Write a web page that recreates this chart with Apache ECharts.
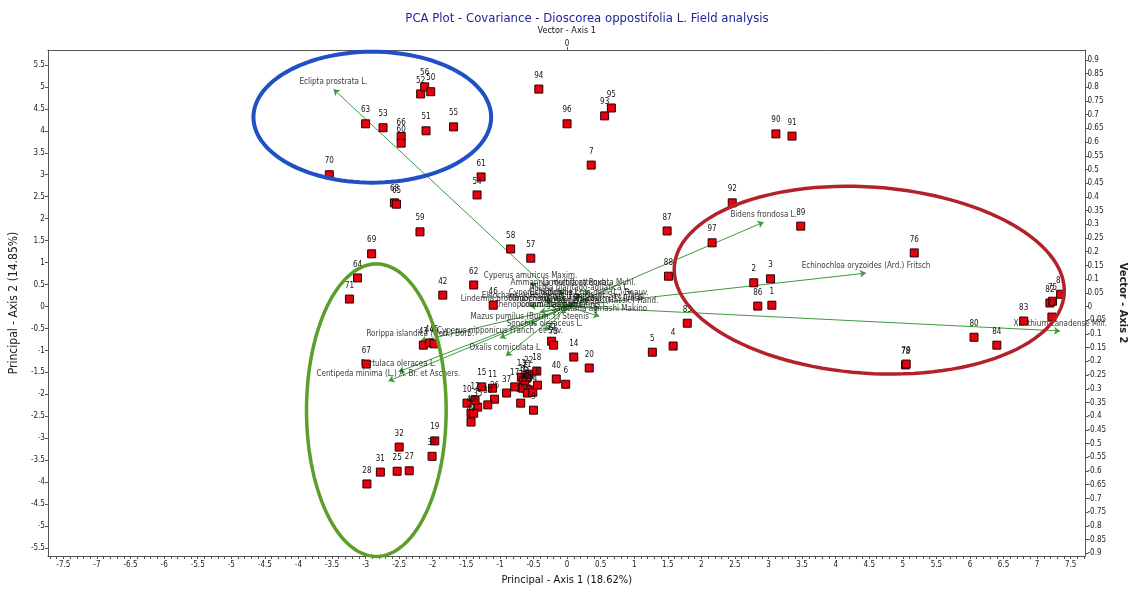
<!DOCTYPE html>
<html><head><meta charset="utf-8">
<script src="https://cdn.jsdelivr.net/npm/echarts@6/dist/echarts.min.js"></script>
<style>html,body{margin:0;padding:0;background:#fff}#c{width:1136px;height:592px}</style>
</head><body><div id="c"></div>
<script>
// ---- Data ----
const pointLabels = ['70','63','53','66','60','51','55','52','56','50','61','54','68','65','59','69','64','71','42','62','46','58','57','94','96','93','95','7','90','91','92','87','97','89','88','2','3','86','1','85','5','4','78','79','76','81','82','75','77','83','80','84','43','44','45','67','19','38','32','31','25','27','28','15','11','26','36','35','10','12','47','48','49','37','17','39','13','16','21','22','23','24','29','30','33','34','8','9','18','40','6','14','20','72','73'];
const pointX = [-3.54,-3.00,-2.74,-2.47,-2.47,-2.10,-1.69,-2.18,-2.12,-2.03,-1.28,-1.34,-2.57,-2.54,-2.19,-2.91,-3.12,-3.24,-1.85,-1.39,-1.10,-0.84,-0.54,-0.42,0.00,0.56,0.66,0.36,3.11,3.35,2.46,1.49,2.16,3.48,1.51,2.78,3.03,2.84,3.05,1.79,1.27,1.58,5.04,5.05,5.17,7.35,7.19,7.23,7.22,6.80,6.06,6.40,-2.14,-2.05,-1.98,-2.99,-1.97,-2.01,-2.50,-2.78,-2.53,-2.35,-2.98,-1.27,-1.11,-1.08,-1.18,-1.33,-1.49,-1.37,-1.43,-1.39,-1.43,-0.90,-0.78,-0.69,-0.68,-0.65,-0.60,-0.57,-0.63,-0.60,-0.56,-0.66,-0.59,-0.51,-0.44,-0.50,-0.45,-0.16,-0.02,0.10,0.33,-0.23,-0.20];
const pointY = [3.00,4.16,4.07,3.87,3.72,4.00,4.09,4.84,5.00,4.89,2.95,2.54,2.36,2.33,1.70,1.20,0.65,0.17,0.26,0.49,0.03,1.31,1.10,4.95,4.16,4.34,4.52,3.22,3.93,3.88,2.36,1.72,1.45,1.83,0.69,0.54,0.63,0.01,0.03,-0.38,-1.04,-0.90,-1.33,-1.31,1.22,0.28,0.08,0.12,-0.24,-0.33,-0.70,-0.88,-0.88,-0.83,-0.85,-1.31,-3.06,-3.41,-3.20,-3.77,-3.75,-3.74,-4.04,-1.83,-1.86,-2.11,-2.24,-2.29,-2.20,-2.13,-2.43,-2.43,-2.63,-1.97,-1.83,-2.20,-1.61,-1.72,-1.63,-1.54,-1.79,-1.88,-1.90,-1.86,-1.97,-1.95,-1.79,-2.36,-1.47,-1.65,-1.77,-1.15,-1.40,-0.79,-0.88];

const vectorNames = ['Eclipta prostrata L.','Bidens frondosa L.','Echinochloa oryzoides (Ard.) Fritsch','Xanthium canadense Mill.','Centipeda minima (L.) A. Br. et Aschers.','Portulaca oleracea L.','Rorippa islandica (Oed.) Borb.','Oxalis corniculata L.','Cyperus nipponicus Franch. et Sav.','Sonchus oleraceus L.','Mazus pumilus (Burm. f.) Steenis','Cyperus amuricus Maxim.','Ammannia multiflora Roxb.','Lindernia attenuata Muhl.','Echinochloa crus-galli (L.) Beauv.','Cyperus difformis L.','Lindernia procumbens (Krock.) Philcox','Monochoria vaginalis (Burm. f.) Presl','Murdannia keisak (Hassk.) Hand.','Chenopodium glaucum L.','Commelina communis L.','Sagittaria aginashi Makino','Alisma plantago-aquatica L.','Eleocharis yokoscensis (Franch. et Sav.) Tang'];
const vectorX = [-0.557,0.469,0.713,1.176,-0.426,-0.402,-0.350,-0.146,-0.160,-0.053,-0.089,-0.087,-0.018,0.053,0.053,-0.053,-0.089,0.018,0.077,-0.065,-0.006,0.077,0.030,-0.010];
const vectorY = [0.793,0.308,0.122,-0.089,-0.272,-0.238,-0.126,-0.180,-0.115,-0.089,-0.064,0.086,0.060,0.060,0.024,0.024,0.002,0.002,-0.005,-0.020,-0.020,-0.035,0.040,0.010];

const xTickLabels = [-7.5,-7,-6.5,-6,-5.5,-5,-4.5,-4,-3.5,-3,-2.5,-2,-1.5,-1,-0.5,0,0.5,1,1.5,2,2.5,3,3.5,4,4.5,5,5.5,6,6.5,7,7.5];
const yTickLabels = [-5.5,-5,-4.5,-4,-3.5,-3,-2.5,-2,-1.5,-1,-0.5,0,0.5,1,1.5,2,2.5,3,3.5,4,4.5,5,5.5];
const vyTickLabels = [-0.9,-0.85,-0.8,-0.75,-0.7,-0.65,-0.6,-0.55,-0.5,-0.45,-0.4,-0.35,-0.3,-0.25,-0.2,-0.15,-0.1,-0.05,0,0.05,0.1,0.15,0.2,0.25,0.3,0.35,0.4,0.45,0.5,0.55,0.6,0.65,0.7,0.75,0.8,0.85,0.9];
const vxTickLabels = [0];

// highlighted groups (ellipses) in principal-axis units
const ellipseCX = [-2.90, 4.50, -2.84];
const ellipseCY = [4.31, 0.60, -2.36];
const ellipseRX = [1.77, 2.91, 1.04];
const ellipseRY = [1.49, 2.12, 3.33];
const ellipseRot = [0, 4, 0];
const ellipseColors = ['#1f50c4', '#b3222a', '#5b9f2b'];
const ellipseWidths = [4, 3.5, 3.5];

// ---- Chart ----
const FONT = "'Liberation Sans Narrow','Arial Narrow','DejaVu Sans Condensed',sans-serif";
const xMinorTicks = [];
for (let i = -77; i <= 77; i++) xMinorTicks.push(i / 10);

const chart = echarts.init(document.getElementById('c'), null, {renderer: 'canvas'});
const axisLineStyle = {color: '#555', width: 1};
const labelStyle = {fontSize: 8, color: '#222', fontFamily: FONT};

chart.setOption({
  animation: false,
  backgroundColor: '#fff',
  title: {
    text: 'PCA Plot - Covariance - Dioscorea oppostifolia L. Field analysis',
    left: 582, top: 7, textAlign: 'center',
    textStyle: {color: '#1e1e96', fontSize: 13, fontWeight: 'normal', fontFamily: FONT}
  },
  grid: {left: 46, right: 49, top: 50, bottom: 36, containLabel: false},
  xAxis: [
    {
      type: 'value', position: 'bottom', min: -7.73, max: 7.72,
      axisLine: {show: true, onZero: false, lineStyle: axisLineStyle},
      axisTick: {show: true, customValues: xMinorTicks, length: 3, lineStyle: {color: '#555'}},
      axisLabel: Object.assign({customValues: xTickLabels, margin: 5, formatter: v => String(v)}, labelStyle),
      splitLine: {show: false},
      name: 'Principal - Axis 1 (18.62%)', nameLocation: 'middle', nameGap: 19,
      nameTextStyle: {fontSize: 11, color: '#111', fontFamily: FONT}
    },
    {
      type: 'value', position: 'top', min: -1.2383, max: 1.2367,
      axisLine: {show: true, onZero: false, lineStyle: axisLineStyle},
      axisTick: {show: true, customValues: vxTickLabels, length: 3, lineStyle: {color: '#555'}},
      axisLabel: Object.assign({customValues: vxTickLabels, margin: 2, formatter: v => String(v)}, labelStyle),
      splitLine: {show: false},
      name: 'Vector - Axis 1', nameLocation: 'middle', nameGap: 13,
      nameTextStyle: {fontSize: 9, color: '#111', fontFamily: FONT}
    }
  ],
  yAxis: [
    {
      type: 'value', position: 'left', min: -5.68, max: 5.84,
      axisLine: {show: true, onZero: false, lineStyle: axisLineStyle},
      axisTick: {show: true, customValues: yTickLabels, length: 3, lineStyle: {color: '#555'}},
      axisLabel: Object.assign({customValues: yTickLabels, margin: 3, formatter: v => String(v)}, labelStyle),
      splitLine: {show: false},
      name: 'Principal - Axis 2 (14.85%)', nameLocation: 'middle', nameGap: 22,
      nameTextStyle: {fontSize: 12, color: '#222', fontFamily: FONT}
    },
    {
      type: 'value', position: 'right', min: -0.910, max: 0.936,
      axisLine: {show: true, onZero: false, lineStyle: axisLineStyle},
      axisTick: {show: true, customValues: vyTickLabels, length: 3, lineStyle: {color: '#555'}},
      axisLabel: Object.assign({customValues: vyTickLabels, margin: 2, formatter: v => String(v)}, labelStyle),
      splitLine: {show: false},
      name: 'Vector - Axis 2', nameLocation: 'middle', nameGap: 26, nameRotate: -90,
      nameTextStyle: {fontSize: 11, color: '#222', fontWeight: 'bold', fontFamily: FONT}
    }
  ],
  series: [
    {
      type: 'lines', coordinateSystem: 'cartesian2d', xAxisIndex: 1, yAxisIndex: 1,
      symbol: ['none', 'arrow'], symbolSize: 6, silent: true, z: 2,
      lineStyle: {color: '#3f9a3f', width: 1, opacity: 1},
      data: vectorNames.map((n, i) => ({name: n, coords: [[0, 0], [vectorX[i], vectorY[i]]]}))
    },
    {
      type: 'scatter', xAxisIndex: 1, yAxisIndex: 1, symbolSize: 1, silent: true, z: 4,
      itemStyle: {color: 'rgba(0,0,0,0)'},
      label: {show: true, position: 'top', distance: 3, formatter: p => p.name,
        fontSize: 8, color: '#000', fontFamily: FONT},
      data: vectorNames.map((n, i) => ({name: n, value: [vectorX[i], vectorY[i]]}))
    },
    {
      type: 'scatter', xAxisIndex: 0, yAxisIndex: 0, symbol: 'rect', symbolSize: 8, z: 5,
      itemStyle: {color: '#e8000e', borderColor: '#2a0000', borderWidth: 1, opacity: 1},
      label: {show: true, position: 'top', distance: 5, formatter: p => p.name,
        fontSize: 8, color: '#111', fontFamily: FONT},
      labelLayout: {hideOverlap: false},
      data: pointLabels.map((n, i) => ({name: n, value: [pointX[i], pointY[i]]}))
    },
    {
      type: 'custom', xAxisIndex: 0, yAxisIndex: 0, silent: true, z: 6, clip: false,
      encode: {x: 0, y: 1},
      data: ellipseCX.map((c, i) => [c, ellipseCY[i], ellipseRX[i], ellipseRY[i], ellipseRot[i]]),
      renderItem: function (params, api) {
        const i = params.dataIndex;
        const c = api.coord([api.value(0), api.value(1)]);
        const s = api.size([api.value(2), api.value(3)]);
        const r = api.value(4) * Math.PI / 180;
        const pts = [];
        for (let k = 0; k < 120; k++) {
          const t = k / 120 * 2 * Math.PI;
          const ex = s[0] * Math.cos(t), ey = s[1] * Math.sin(t);
          pts.push([c[0] + ex * Math.cos(r) - ey * Math.sin(r), c[1] + ex * Math.sin(r) + ey * Math.cos(r)]);
        }
        return {type: 'polygon', shape: {points: pts},
          style: {fill: 'none', stroke: ellipseColors[i], lineWidth: ellipseWidths[i]}};
      }
    }
  ]
});
</script></body></html>
